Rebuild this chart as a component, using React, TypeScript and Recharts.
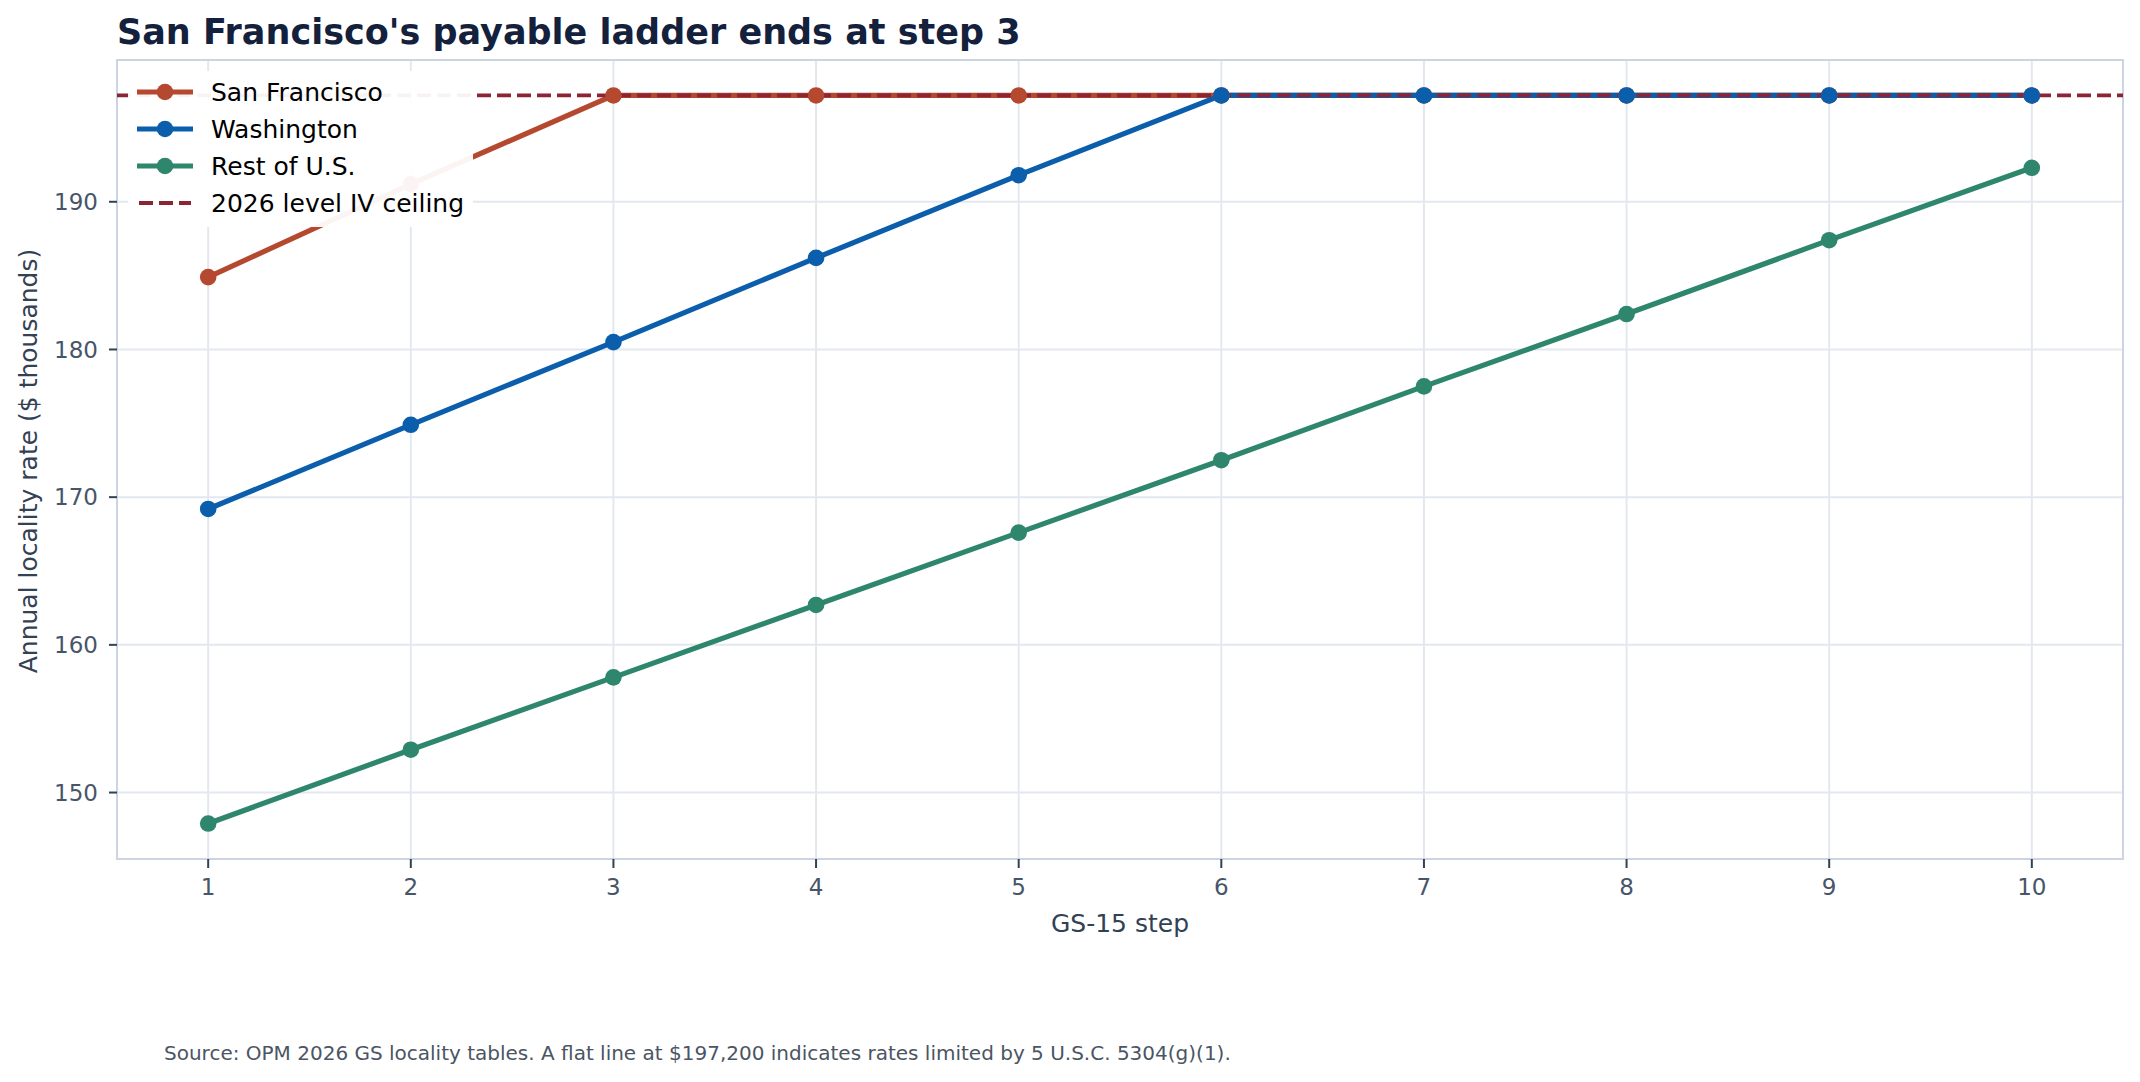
import React from 'react';
import { LineChart, Line, XAxis, YAxis, CartesianGrid, ReferenceLine, ReferenceArea, Legend } from 'recharts';

// GS-15 annual locality rates, $ thousands
const steps = [1, 2, 3, 4, 5, 6, 7, 8, 9, 10];
const sanFrancisco = [184.9, 191.2, 197.2, 197.2, 197.2, 197.2, 197.2, 197.2, 197.2, 197.2];
const washington = [169.2, 174.9, 180.5, 186.2, 191.8, 197.2, 197.2, 197.2, 197.2, 197.2];
const restOfUS = [147.9, 152.9, 157.8, 162.7, 167.6, 172.5, 177.5, 182.4, 187.4, 192.3];
const ceiling = 197.2;
const yTicks = [150, 160, 170, 180, 190];

const seriesInfo = [
  { key: 'sf', name: 'San Francisco', color: '#b5492f' },
  { key: 'dc', name: 'Washington', color: '#0b5eab' },
  { key: 'rus', name: 'Rest of U.S.', color: '#2e866d' },
];
const ceilingLabel = '2026 level IV ceiling';
const ceilingColor = '#8c2434';

const chartData = steps.map((step, i) => ({
  step,
  sf: sanFrancisco[i],
  dc: washington[i],
  rus: restOfUS[i],
}));

const FONT = '"DejaVu Sans", sans-serif';

function LegendBox() {
  return (
    <div
      style={{
        width: 345,
        height: 156,
        background: 'rgba(255,255,255,0.94)',
        fontFamily: FONT,
        fontSize: 25,
        color: '#000',
        position: 'relative',
      }}
    >
      {seriesInfo.map((s, i) => (
        <div key={s.key} style={{ position: 'absolute', left: 0, top: 21 + i * 37 - 18, height: 36, width: 345 }}>
          <svg width={70} height={36} style={{ position: 'absolute', left: 0, top: 0 }}>
            <line x1={9} x2={65} y1={18} y2={18} stroke={s.color} strokeWidth={5.2} />
            <circle cx={37} cy={18} r={8.3} fill={s.color} />
          </svg>
          <span style={{ position: 'absolute', left: 83, top: 18, transform: 'translateY(-50%)', whiteSpace: 'nowrap', lineHeight: 1 }}>
            {s.name}
          </span>
        </div>
      ))}
      <div style={{ position: 'absolute', left: 0, top: 21 + 3 * 37 - 18, height: 36, width: 345 }}>
        <svg width={70} height={36} style={{ position: 'absolute', left: 0, top: 0 }}>
          <line x1={11} x2={63} y1={18} y2={18} stroke={ceilingColor} strokeWidth={3.8} strokeDasharray="14 6" />
        </svg>
        <span style={{ position: 'absolute', left: 83, top: 18, transform: 'translateY(-50%)', whiteSpace: 'nowrap', lineHeight: 1 }}>
          {ceilingLabel}
        </span>
      </div>
    </div>
  );
}

export default function App() {
  return (
    <div style={{ position: 'absolute', left: 0, top: 0, width: 2140, height: 1082, background: '#fff', fontFamily: FONT }}>
      <div
        style={{
          position: 'absolute',
          left: 117,
          top: 15,
          fontSize: 35,
          fontWeight: 'bold',
          color: '#14213d',
          lineHeight: 1,
          whiteSpace: 'nowrap',
        }}
      >
        San Francisco's payable ladder ends at step 3
      </div>

      <LineChart width={2140} height={1082} data={chartData} margin={{ top: 60, right: 17, bottom: 163, left: 57 }}>
        <CartesianGrid stroke="#e3e8f0" strokeWidth={2} horizontal vertical />
        <XAxis
          dataKey="step"
          type="number"
          domain={[0.55, 10.45]}
          ticks={steps}
          allowDataOverflow
          height={60}
          tickSize={9}
          tickMargin={11}
          axisLine={false}
          tickLine={{ stroke: '#334155', strokeWidth: 2 }}
          tick={{ fill: '#475569', fontSize: 23, fontFamily: FONT }}
        />
        <YAxis
          type="number"
          domain={[145.5, 199.6]}
          ticks={yTicks}
          allowDataOverflow
          width={60}
          tickSize={8}
          tickMargin={11}
          axisLine={false}
          tickLine={{ stroke: '#334155', strokeWidth: 2 }}
          tick={{ fill: '#475569', fontSize: 23, fontFamily: FONT }}
        />
        <ReferenceArea x1={0.55} x2={10.45} y1={145.5} y2={199.6} fill="none" stroke="#cbd5e1" strokeWidth={2} ifOverflow="visible" />
        {seriesInfo.map((s) => (
          <Line
            key={s.key}
            type="linear"
            dataKey={s.key}
            name={s.name}
            stroke={s.color}
            strokeWidth={5.2}
            dot={{ r: 8.3, fill: s.color, stroke: s.color, strokeWidth: 0 }}
            activeDot={false}
            isAnimationActive={false}
          />
        ))}
        <ReferenceLine y={ceiling} stroke={ceilingColor} strokeWidth={3.8} strokeDasharray="14 6" />
        <Legend
          layout="vertical"
          align="center"
          verticalAlign="middle"
          wrapperStyle={{ position: 'absolute', left: 128, top: 71, width: 345, height: 156 }}
          content={() => <LegendBox />}
        />
      </LineChart>

      <div
        style={{
          position: 'absolute',
          left: 28,
          top: 461,
          transform: 'translate(-50%, -50%) rotate(-90deg)',
          fontSize: 25,
          color: '#334155',
          whiteSpace: 'nowrap',
          lineHeight: 1,
        }}
      >
        Annual locality rate ($ thousands)
      </div>
      <div
        style={{
          position: 'absolute',
          left: 1120,
          top: 923,
          transform: 'translate(-50%, -50%)',
          fontSize: 25,
          color: '#334155',
          whiteSpace: 'nowrap',
          lineHeight: 1,
        }}
      >
        GS-15 step
      </div>
      <div
        style={{
          position: 'absolute',
          left: 164,
          top: 1043,
          fontSize: 20,
          color: '#4b5563',
          whiteSpace: 'nowrap',
          lineHeight: 1,
        }}
      >
        Source: OPM 2026 GS locality tables. A flat line at $197,200 indicates rates limited by 5 U.S.C. 5304(g)(1).
      </div>
    </div>
  );
}
